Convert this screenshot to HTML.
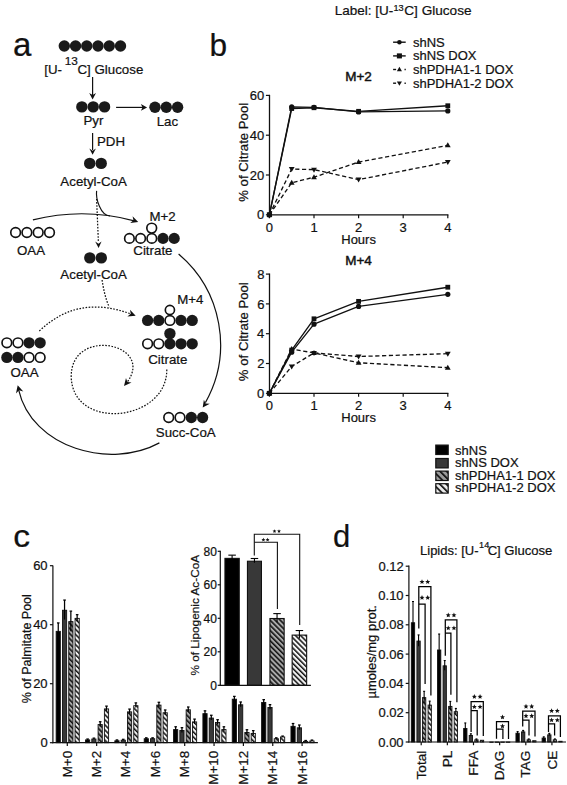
<!DOCTYPE html>
<html><head><meta charset="utf-8"><style>
html,body{margin:0;padding:0;background:#fff;}
body{width:567px;height:785px;overflow:hidden;}
svg{display:block;font-family:"Liberation Sans",sans-serif;}
text{stroke:#111;stroke-width:0.22px;paint-order:stroke;}
</style></head><body>
<svg width="567" height="785" viewBox="0 0 567 785">
<rect width="567" height="785" fill="#fff"/>
<defs>
<pattern id="hg" patternUnits="userSpaceOnUse" width="3.6" height="3.6" patternTransform="rotate(-45)">
<rect width="3.6" height="3.6" fill="#a8a8a8"/><rect width="1.55" height="3.6" fill="#111"/></pattern>
<pattern id="hw" patternUnits="userSpaceOnUse" width="3.6" height="3.6" patternTransform="rotate(-45)">
<rect width="3.6" height="3.6" fill="#f4f4f4"/><rect width="1.5" height="3.6" fill="#111"/></pattern>
<pattern id="lg" patternUnits="userSpaceOnUse" width="4.6" height="4.6" patternTransform="rotate(-45)">
<rect width="4.6" height="4.6" fill="#9c9c9c"/><rect width="1.7" height="4.6" fill="#111"/></pattern>
<pattern id="lw" patternUnits="userSpaceOnUse" width="4.6" height="4.6" patternTransform="rotate(-45)">
<rect width="4.6" height="4.6" fill="#ececec"/><rect width="1.7" height="4.6" fill="#111"/></pattern>
</defs>
<text x="12.9" y="56.3" font-size="33" fill="#111">a</text>
<circle cx="64.3" cy="46" r="5.7" fill="#1a1a1a"/>
<circle cx="75.54" cy="46" r="5.7" fill="#1a1a1a"/>
<circle cx="86.78" cy="46" r="5.7" fill="#1a1a1a"/>
<circle cx="98.02" cy="46" r="5.7" fill="#1a1a1a"/>
<circle cx="109.26" cy="46" r="5.7" fill="#1a1a1a"/>
<circle cx="120.5" cy="46" r="5.7" fill="#1a1a1a"/>
<text x="44.25" y="73.6" font-size="13.3" fill="#111">[U-</text>
<text x="64.7" y="64.8" font-size="11.8" fill="#111">13</text>
<text x="77.42" y="73.6" font-size="13.3" fill="#111">C]</text>
<text x="94.53" y="73.6" font-size="13.3" fill="#111">Glucose</text>
<line x1="92.6" y1="77" x2="92.6" y2="95" stroke="#111" stroke-width="1.2"/>
<path d="M92.6 99.4L89.2 92.9L92.6 95.1L96 92.9Z" fill="#111"/>
<circle cx="81.85" cy="106.9" r="5.7" fill="#1a1a1a"/>
<circle cx="93.2" cy="106.9" r="5.7" fill="#1a1a1a"/>
<circle cx="104.55" cy="106.9" r="5.7" fill="#1a1a1a"/>
<text x="83.51" y="125.4" font-size="13.3" fill="#111">Pyr</text>
<line x1="116.1" y1="107.4" x2="143" y2="107.4" stroke="#111" stroke-width="1.2"/>
<path d="M147.1 107.4L140.9 110.8L142.5 107.4L140.9 104Z" fill="#111"/>
<circle cx="155" cy="107.3" r="5.7" fill="#1a1a1a"/>
<circle cx="166.3" cy="107.3" r="5.7" fill="#1a1a1a"/>
<circle cx="177.6" cy="107.3" r="5.7" fill="#1a1a1a"/>
<text x="156.71" y="126" font-size="13.3" fill="#111">Lac</text>
<line x1="92.6" y1="133" x2="92.6" y2="150" stroke="#111" stroke-width="1.2"/>
<path d="M92.6 154.8L89.3 148.5L92.6 150.7L95.9 148.5Z" fill="#111"/>
<text x="96.91" y="146.4" font-size="13.3" fill="#111">PDH</text>
<circle cx="89.7" cy="163.4" r="5.7" fill="#1a1a1a"/>
<circle cx="101.2" cy="163.4" r="5.7" fill="#1a1a1a"/>
<text x="60.37" y="186.4" font-size="13.3" fill="#111">Acetyl-CoA</text>
<path d="M96.6 190.9C95.7 198.3 100.2 215.5 110 216" fill="none" stroke="#111" stroke-width="1.15"/>
<path d="M32.9 219.8C65.8 211.62 101.01 211.87 134.27 220.8" fill="none" stroke="#111" stroke-width="1.2"/>
<path d="M138.2 221.9L130.22 222.96L133.47 220.27L132.56 216.15Z" fill="#111"/>
<path d="M96.6 199L98.4 242" fill="none" stroke="#111" stroke-width="1.25" stroke-dasharray="1.6 1.5"/>
<path d="M98.6 248L95.18 241.62L98.45 243.7L101.57 241.39Z" fill="#111"/>
<circle cx="15.6" cy="232.5" r="4.83" fill="#fff" stroke="#111" stroke-width="1.65"/>
<circle cx="26.9" cy="232.5" r="4.83" fill="#fff" stroke="#111" stroke-width="1.65"/>
<circle cx="38.2" cy="232.5" r="4.83" fill="#fff" stroke="#111" stroke-width="1.65"/>
<circle cx="49.5" cy="232.5" r="4.83" fill="#fff" stroke="#111" stroke-width="1.65"/>
<text x="16.97" y="254.6" font-size="13.3" fill="#111">OAA</text>
<circle cx="129.4" cy="238.4" r="4.77" fill="#fff" stroke="#111" stroke-width="1.65"/>
<circle cx="140.6" cy="238.4" r="4.77" fill="#fff" stroke="#111" stroke-width="1.65"/>
<circle cx="151.8" cy="238.4" r="4.77" fill="#fff" stroke="#111" stroke-width="1.65"/>
<circle cx="163" cy="238.4" r="5.6" fill="#1a1a1a"/>
<circle cx="174.2" cy="238.4" r="5.6" fill="#1a1a1a"/>
<circle cx="151.7" cy="228.1" r="4.88" fill="#fff" stroke="#111" stroke-width="1.65"/>
<text x="149.51" y="221.2" font-size="13.3" fill="#111">M+2</text>
<text x="133.32" y="255.3" font-size="13.3" fill="#111">Citrate</text>
<circle cx="89.8" cy="257.9" r="5.7" fill="#1a1a1a"/>
<circle cx="101.3" cy="257.9" r="5.7" fill="#1a1a1a"/>
<text x="60.37" y="278.6" font-size="13.3" fill="#111">Acetyl-CoA</text>
<path d="M102.1 280C103.5 290 106 300 109.3 307.2" fill="none" stroke="#111" stroke-width="1.25" stroke-dasharray="1.6 1.5"/>
<path d="M39.3 331C67.55 304.48 97.01 301.69 131.48 314.11" fill="none" stroke="#111" stroke-width="1.25" stroke-dasharray="1.6 1.5"/>
<path d="M135.7 315.7L127.41 316.4L130.74 313.82L129.97 309.67Z" fill="#111"/>
<circle cx="6.85" cy="342.8" r="4.83" fill="#fff" stroke="#111" stroke-width="1.65"/>
<circle cx="6.85" cy="357.4" r="5.65" fill="#1a1a1a"/>
<circle cx="17.95" cy="342.8" r="4.83" fill="#fff" stroke="#111" stroke-width="1.65"/>
<circle cx="17.95" cy="357.4" r="5.65" fill="#1a1a1a"/>
<circle cx="29.05" cy="342.8" r="5.65" fill="#1a1a1a"/>
<circle cx="29.05" cy="357.4" r="4.83" fill="#fff" stroke="#111" stroke-width="1.65"/>
<circle cx="40.15" cy="342.8" r="5.65" fill="#1a1a1a"/>
<circle cx="40.15" cy="357.4" r="4.83" fill="#fff" stroke="#111" stroke-width="1.65"/>
<text x="10.47" y="377.2" font-size="13.3" fill="#111">OAA</text>
<circle cx="147.6" cy="320.4" r="5.65" fill="#1a1a1a"/>
<circle cx="158.75" cy="320.4" r="5.65" fill="#1a1a1a"/>
<circle cx="169.9" cy="320.4" r="4.83" fill="#fff" stroke="#111" stroke-width="1.65"/>
<circle cx="181.05" cy="320.4" r="5.65" fill="#1a1a1a"/>
<circle cx="192.2" cy="320.4" r="5.65" fill="#1a1a1a"/>
<circle cx="169.9" cy="310" r="4.58" fill="#fff" stroke="#111" stroke-width="1.65"/>
<circle cx="147.6" cy="343.8" r="4.83" fill="#fff" stroke="#111" stroke-width="1.65"/>
<circle cx="158.75" cy="343.8" r="4.83" fill="#fff" stroke="#111" stroke-width="1.65"/>
<circle cx="169.9" cy="343.8" r="5.65" fill="#1a1a1a"/>
<circle cx="181.05" cy="343.8" r="5.65" fill="#1a1a1a"/>
<circle cx="192.2" cy="343.8" r="5.65" fill="#1a1a1a"/>
<circle cx="169.9" cy="333.6" r="5.7" fill="#1a1a1a"/>
<text x="177.21" y="304" font-size="13.3" fill="#111">M+4</text>
<text x="148.22" y="363.6" font-size="13.3" fill="#111">Citrate</text>
<path d="M178.6 254A118.7 118.7 0 0 1 205.4 402.6" fill="none" stroke="#111" stroke-width="1.2"/>
<path d="M202.7 407.6L203.88 399.64L205.57 403.5L209.78 403.77Z" fill="#111"/>
<path d="M166.8 369.5C167.1 421.9 72.7 431.6 71.2 376.9" fill="none" stroke="#111" stroke-width="1.25" stroke-dasharray="1.6 1.5"/>
<path d="M71.2 376.9C70.81 325.73 156.03 343.67 126.92 382.47" fill="none" stroke="#111" stroke-width="1.25" stroke-dasharray="1.6 1.5"/>
<path d="M124 386L125.99 377.92L127.37 381.91L131.55 382.5Z" fill="#111"/>
<circle cx="168.7" cy="417.5" r="4.83" fill="#fff" stroke="#111" stroke-width="1.65"/>
<circle cx="180" cy="417.5" r="4.83" fill="#fff" stroke="#111" stroke-width="1.65"/>
<circle cx="191.3" cy="417.5" r="5.65" fill="#1a1a1a"/>
<circle cx="202.6" cy="417.5" r="5.65" fill="#1a1a1a"/>
<text x="155.8" y="437" font-size="13.3" fill="#111">Succ-CoA</text>
<path d="M159.4 442.9C110.6 469.5 31.86 448.57 18.5 389.26" fill="none" stroke="#111" stroke-width="1.2"/>
<path d="M17.7 385.2L23.31 391.46L19.07 390.32L15.97 393.43Z" fill="#111"/>
<text x="209.56" y="56.1" font-size="31.6" fill="#111">b</text>
<text x="334.69" y="15.1" font-size="13.5" fill="#111">Label: [U-</text>
<text x="393.5" y="11.1" font-size="9.2" fill="#111">13</text>
<text x="404.31" y="15.2" font-size="13.6" fill="#111">C] Glucose</text>
<line x1="393.1" y1="42.2" x2="405.7" y2="42.2" stroke="#111" stroke-width="1.4"/>
<circle cx="399.4" cy="42.2" r="2.29" fill="#111"/>
<text x="412.94" y="46.7" font-size="13" fill="#111">shNS</text>
<line x1="393.1" y1="55.9" x2="405.7" y2="55.9" stroke="#111" stroke-width="1.4"/>
<rect x="396.88" y="53.38" width="5.04" height="5.04" fill="#111"/>
<text x="412.94" y="60.4" font-size="13" fill="#111">shNS DOX</text>
<line x1="393.1" y1="69.5" x2="396.1" y2="69.5" stroke="#111" stroke-width="1.4"/>
<line x1="404.5" y1="69.5" x2="405.8" y2="69.5" stroke="#111" stroke-width="1.4"/>
<path d="M399.4 66.86L401.95 71.26L396.85 71.26Z" fill="#111"/>
<text x="412.94" y="74" font-size="13" fill="#111">shPDHA1-1 DOX</text>
<line x1="393.1" y1="83.2" x2="396.1" y2="83.2" stroke="#111" stroke-width="1.4"/>
<line x1="404.5" y1="83.2" x2="405.8" y2="83.2" stroke="#111" stroke-width="1.4"/>
<path d="M399.4 85.84L401.95 81.44L396.85 81.44Z" fill="#111"/>
<text x="412.94" y="87.7" font-size="13" fill="#111">shPDHA1-2 DOX</text>
<line x1="269.5" y1="94.8" x2="269.5" y2="215.4" stroke="#111" stroke-width="1.3"/>
<line x1="268.9" y1="214.8" x2="448.4" y2="214.8" stroke="#111" stroke-width="1.3"/>
<line x1="265.9" y1="214.8" x2="269.5" y2="214.8" stroke="#111" stroke-width="1.2"/>
<text x="264.31" y="219.4" font-size="13" text-anchor="end" fill="#111">0</text>
<line x1="265.9" y1="175" x2="269.5" y2="175" stroke="#111" stroke-width="1.2"/>
<text x="264.31" y="179.6" font-size="13" text-anchor="end" fill="#111">20</text>
<line x1="265.9" y1="135.2" x2="269.5" y2="135.2" stroke="#111" stroke-width="1.2"/>
<text x="264.31" y="139.8" font-size="13" text-anchor="end" fill="#111">40</text>
<line x1="265.9" y1="95.4" x2="269.5" y2="95.4" stroke="#111" stroke-width="1.2"/>
<text x="264.31" y="100" font-size="13" text-anchor="end" fill="#111">60</text>
<line x1="269.4" y1="214.8" x2="269.4" y2="218.2" stroke="#111" stroke-width="1.2"/>
<text x="269.4" y="231.9" font-size="13" text-anchor="middle" fill="#111">0</text>
<line x1="314" y1="214.8" x2="314" y2="218.2" stroke="#111" stroke-width="1.2"/>
<text x="314" y="231.9" font-size="13" text-anchor="middle" fill="#111">1</text>
<line x1="358.6" y1="214.8" x2="358.6" y2="218.2" stroke="#111" stroke-width="1.2"/>
<text x="358.6" y="231.9" font-size="13" text-anchor="middle" fill="#111">2</text>
<line x1="403.2" y1="214.8" x2="403.2" y2="218.2" stroke="#111" stroke-width="1.2"/>
<text x="403.2" y="231.9" font-size="13" text-anchor="middle" fill="#111">3</text>
<line x1="447.8" y1="214.8" x2="447.8" y2="218.2" stroke="#111" stroke-width="1.2"/>
<text x="447.8" y="231.9" font-size="13" text-anchor="middle" fill="#111">4</text>
<text x="358.6" y="244" font-size="13" text-anchor="middle" fill="#111">Hours</text>
<text x="358.5" y="80.5" font-size="13.5" text-anchor="middle" style="stroke-width:0.45px" fill="#111">M+2</text>
<text transform="translate(247.5 152.3) rotate(-90)" font-size="13.2" text-anchor="middle" fill="#111">% of Citrate Pool</text>
<path d="M269.4 214.8 L291.7 106.94 L314 107.34 L358.6 111.92 L447.8 110.92" fill="none" stroke="#111" stroke-width="1.35" stroke-linejoin="round"/>
<path d="M269.4 214.8 L291.7 108.53 L314 107.74 L358.6 111.32 L447.8 105.75" fill="none" stroke="#111" stroke-width="1.35" stroke-linejoin="round"/>
<path d="M269.4 214.8 L291.7 182.76 L314 177.19 L358.6 162.06 L447.8 145.35" fill="none" stroke="#111" stroke-width="1.35" stroke-dasharray="4.2 2.6" stroke-linejoin="round"/>
<path d="M269.4 214.8 L291.7 169.03 L314 169.63 L358.6 179.58 L447.8 162.06" fill="none" stroke="#111" stroke-width="1.35" stroke-dasharray="4.2 2.6" stroke-linejoin="round"/>
<circle cx="269.4" cy="214.8" r="2.6" fill="#111"/>
<circle cx="291.7" cy="106.94" r="2.6" fill="#111"/>
<circle cx="314" cy="107.34" r="2.6" fill="#111"/>
<circle cx="358.6" cy="111.92" r="2.6" fill="#111"/>
<circle cx="447.8" cy="110.92" r="2.6" fill="#111"/>
<rect x="267" y="212.4" width="4.8" height="4.8" fill="#111"/>
<rect x="289.3" y="106.13" width="4.8" height="4.8" fill="#111"/>
<rect x="311.6" y="105.34" width="4.8" height="4.8" fill="#111"/>
<rect x="356.2" y="108.92" width="4.8" height="4.8" fill="#111"/>
<rect x="445.4" y="103.35" width="4.8" height="4.8" fill="#111"/>
<path d="M269.4 211.8L272.3 216.8L266.5 216.8Z" fill="#111"/>
<path d="M291.7 179.76L294.6 184.76L288.8 184.76Z" fill="#111"/>
<path d="M314 174.19L316.9 179.19L311.1 179.19Z" fill="#111"/>
<path d="M358.6 159.06L361.5 164.06L355.7 164.06Z" fill="#111"/>
<path d="M447.8 142.35L450.7 147.35L444.9 147.35Z" fill="#111"/>
<path d="M269.4 217.8L272.3 212.8L266.5 212.8Z" fill="#111"/>
<path d="M291.7 172.03L294.6 167.03L288.8 167.03Z" fill="#111"/>
<path d="M314 172.63L316.9 167.63L311.1 167.63Z" fill="#111"/>
<path d="M358.6 182.58L361.5 177.58L355.7 177.58Z" fill="#111"/>
<path d="M447.8 165.06L450.7 160.06L444.9 160.06Z" fill="#111"/>
<line x1="269.5" y1="273.5" x2="269.5" y2="393.9" stroke="#111" stroke-width="1.3"/>
<line x1="268.9" y1="393.3" x2="448.4" y2="393.3" stroke="#111" stroke-width="1.3"/>
<line x1="265.9" y1="393.3" x2="269.5" y2="393.3" stroke="#111" stroke-width="1.2"/>
<text x="264.31" y="397.9" font-size="13" text-anchor="end" fill="#111">0</text>
<line x1="265.9" y1="363.5" x2="269.5" y2="363.5" stroke="#111" stroke-width="1.2"/>
<text x="264.45" y="368.1" font-size="13" text-anchor="end" fill="#111">2</text>
<line x1="265.9" y1="333.7" x2="269.5" y2="333.7" stroke="#111" stroke-width="1.2"/>
<text x="264.18" y="338.3" font-size="13" text-anchor="end" fill="#111">4</text>
<line x1="265.9" y1="303.9" x2="269.5" y2="303.9" stroke="#111" stroke-width="1.2"/>
<text x="264.37" y="308.5" font-size="13" text-anchor="end" fill="#111">6</text>
<line x1="265.9" y1="274.1" x2="269.5" y2="274.1" stroke="#111" stroke-width="1.2"/>
<text x="264.36" y="278.7" font-size="13" text-anchor="end" fill="#111">8</text>
<line x1="269.4" y1="393.3" x2="269.4" y2="396.7" stroke="#111" stroke-width="1.2"/>
<text x="269.4" y="410.4" font-size="13" text-anchor="middle" fill="#111">0</text>
<line x1="314" y1="393.3" x2="314" y2="396.7" stroke="#111" stroke-width="1.2"/>
<text x="314" y="410.4" font-size="13" text-anchor="middle" fill="#111">1</text>
<line x1="358.6" y1="393.3" x2="358.6" y2="396.7" stroke="#111" stroke-width="1.2"/>
<text x="358.6" y="410.4" font-size="13" text-anchor="middle" fill="#111">2</text>
<line x1="403.2" y1="393.3" x2="403.2" y2="396.7" stroke="#111" stroke-width="1.2"/>
<text x="403.2" y="410.4" font-size="13" text-anchor="middle" fill="#111">3</text>
<line x1="447.8" y1="393.3" x2="447.8" y2="396.7" stroke="#111" stroke-width="1.2"/>
<text x="447.8" y="410.4" font-size="13" text-anchor="middle" fill="#111">4</text>
<text x="358.6" y="422.4" font-size="13" text-anchor="middle" fill="#111">Hours</text>
<text x="358.5" y="265" font-size="13.5" text-anchor="middle" style="stroke-width:0.45px" fill="#111">M+4</text>
<text transform="translate(247.5 331.7) rotate(-90)" font-size="13.2" text-anchor="middle" fill="#111">% of Citrate Pool</text>
<path d="M269.4 393.3 L291.7 352.18 L314 324.16 L358.6 306.43 L447.8 294.36" fill="none" stroke="#111" stroke-width="1.35" stroke-linejoin="round"/>
<path d="M269.4 393.3 L291.7 350.09 L314 318.8 L358.6 301.37 L447.8 287.21" fill="none" stroke="#111" stroke-width="1.35" stroke-linejoin="round"/>
<path d="M269.4 393.3 L291.7 349.05 L314 352.92 L358.6 362.75 L447.8 367.67" fill="none" stroke="#111" stroke-width="1.35" stroke-dasharray="4.2 2.6" stroke-linejoin="round"/>
<path d="M269.4 393.3 L291.7 366.48 L314 352.92 L358.6 356.5 L447.8 353.67" fill="none" stroke="#111" stroke-width="1.35" stroke-dasharray="4.2 2.6" stroke-linejoin="round"/>
<circle cx="269.4" cy="393.3" r="2.6" fill="#111"/>
<circle cx="291.7" cy="352.18" r="2.6" fill="#111"/>
<circle cx="314" cy="324.16" r="2.6" fill="#111"/>
<circle cx="358.6" cy="306.43" r="2.6" fill="#111"/>
<circle cx="447.8" cy="294.36" r="2.6" fill="#111"/>
<rect x="267" y="390.9" width="4.8" height="4.8" fill="#111"/>
<rect x="289.3" y="347.69" width="4.8" height="4.8" fill="#111"/>
<rect x="311.6" y="316.4" width="4.8" height="4.8" fill="#111"/>
<rect x="356.2" y="298.97" width="4.8" height="4.8" fill="#111"/>
<rect x="445.4" y="284.81" width="4.8" height="4.8" fill="#111"/>
<path d="M269.4 390.3L272.3 395.3L266.5 395.3Z" fill="#111"/>
<path d="M291.7 346.05L294.6 351.05L288.8 351.05Z" fill="#111"/>
<path d="M314 349.92L316.9 354.92L311.1 354.92Z" fill="#111"/>
<path d="M358.6 359.75L361.5 364.75L355.7 364.75Z" fill="#111"/>
<path d="M447.8 364.67L450.7 369.67L444.9 369.67Z" fill="#111"/>
<path d="M269.4 396.3L272.3 391.3L266.5 391.3Z" fill="#111"/>
<path d="M291.7 369.48L294.6 364.48L288.8 364.48Z" fill="#111"/>
<path d="M314 355.92L316.9 350.92L311.1 350.92Z" fill="#111"/>
<path d="M358.6 359.5L361.5 354.5L355.7 354.5Z" fill="#111"/>
<path d="M447.8 356.67L450.7 351.67L444.9 351.67Z" fill="#111"/>
<rect x="435.8" y="445.1" width="12.4" height="9.4" fill="#000" stroke="#111" stroke-width="1.2"/>
<text x="455.04" y="454.5" font-size="13" fill="#111">shNS</text>
<rect x="435.8" y="458.5" width="12.4" height="9.4" fill="#383838" stroke="#111" stroke-width="1.2"/>
<text x="455.04" y="467.2" font-size="13" fill="#111">shNS DOX</text>
<rect x="435.8" y="471.1" width="12.4" height="9.4" fill="url(#lg)" stroke="#111" stroke-width="1.2"/>
<text x="455.04" y="479.8" font-size="13" fill="#111">shPDHA1-1 DOX</text>
<rect x="435.8" y="483.7" width="12.4" height="9.4" fill="url(#lw)" stroke="#111" stroke-width="1.2"/>
<text x="455.04" y="492.4" font-size="13" fill="#111">shPDHA1-2 DOX</text>
<text transform="translate(13.2 547.4) scale(1.1 1)" font-size="30.5" fill="#111">c</text>
<line x1="52.9" y1="565.4" x2="52.9" y2="743.3" stroke="#111" stroke-width="1.2"/>
<line x1="49.9" y1="742.7" x2="52.9" y2="742.7" stroke="#111" stroke-width="1.2"/>
<text x="47.61" y="747.3" font-size="13" text-anchor="end" fill="#111">0</text>
<line x1="49.9" y1="683.7" x2="52.9" y2="683.7" stroke="#111" stroke-width="1.2"/>
<text x="47.61" y="688.3" font-size="13" text-anchor="end" fill="#111">20</text>
<line x1="49.9" y1="624.7" x2="52.9" y2="624.7" stroke="#111" stroke-width="1.2"/>
<text x="47.61" y="629.3" font-size="13" text-anchor="end" fill="#111">40</text>
<line x1="49.9" y1="565.7" x2="52.9" y2="565.7" stroke="#111" stroke-width="1.2"/>
<text x="47.61" y="570.3" font-size="13" text-anchor="end" fill="#111">60</text>
<text transform="translate(31 648.7) rotate(-90)" font-size="12.5" text-anchor="middle" fill="#111">% of Palmitate Pool</text>
<rect x="56.15" y="631.35" width="4.2" height="111.36" fill="#000" stroke="#111" stroke-width="0.9"/>
<rect x="62.45" y="610.25" width="4.2" height="132.45" fill="#383838" stroke="#111" stroke-width="0.9"/>
<rect x="68.75" y="621.61" width="4.2" height="121.09" fill="url(#hg)" stroke="#111" stroke-width="0.9"/>
<rect x="75.05" y="618.37" width="4.2" height="124.33" fill="url(#hw)" stroke="#111" stroke-width="0.9"/>
<line x1="58.25" y1="638.86" x2="58.25" y2="622.93" stroke="#000" stroke-width="1.25"/>
<line x1="56.95" y1="622.93" x2="59.55" y2="622.93" stroke="#000" stroke-width="1.25"/>
<line x1="64.55" y1="619.54" x2="64.55" y2="600.07" stroke="#000" stroke-width="1.25"/>
<line x1="63.25" y1="600.07" x2="65.85" y2="600.07" stroke="#000" stroke-width="1.25"/>
<line x1="70.85" y1="631.19" x2="70.85" y2="611.13" stroke="#000" stroke-width="1.25"/>
<line x1="69.55" y1="611.13" x2="72.15" y2="611.13" stroke="#000" stroke-width="1.25"/>
<line x1="77.15" y1="621.16" x2="77.15" y2="614.67" stroke="#000" stroke-width="1.25"/>
<line x1="75.85" y1="614.67" x2="78.45" y2="614.67" stroke="#000" stroke-width="1.25"/>
<line x1="67.3" y1="742.7" x2="67.3" y2="745.9" stroke="#111" stroke-width="1.2"/>
<text transform="translate(71.7 750.9) rotate(-90)" font-size="13.4" text-anchor="end" fill="#111">M+0</text>
<rect x="85.5" y="739.91" width="4.2" height="2.8" fill="#000" stroke="#111" stroke-width="0.9"/>
<rect x="91.8" y="739.02" width="4.2" height="3.68" fill="#383838" stroke="#111" stroke-width="0.9"/>
<rect x="98.1" y="724.57" width="4.2" height="18.14" fill="url(#hg)" stroke="#111" stroke-width="0.9"/>
<rect x="104.4" y="708.93" width="4.2" height="33.77" fill="url(#hw)" stroke="#111" stroke-width="0.9"/>
<line x1="87.6" y1="739.9" x2="87.6" y2="739.01" stroke="#000" stroke-width="1.25"/>
<line x1="86.3" y1="739.01" x2="88.9" y2="739.01" stroke="#000" stroke-width="1.25"/>
<line x1="93.9" y1="739.01" x2="93.9" y2="738.13" stroke="#000" stroke-width="1.25"/>
<line x1="92.6" y1="738.13" x2="95.2" y2="738.13" stroke="#000" stroke-width="1.25"/>
<line x1="100.2" y1="726.48" x2="100.2" y2="721.75" stroke="#000" stroke-width="1.25"/>
<line x1="98.9" y1="721.75" x2="101.5" y2="721.75" stroke="#000" stroke-width="1.25"/>
<line x1="106.5" y1="710.84" x2="106.5" y2="706.12" stroke="#000" stroke-width="1.25"/>
<line x1="105.2" y1="706.12" x2="107.8" y2="706.12" stroke="#000" stroke-width="1.25"/>
<line x1="96.65" y1="742.7" x2="96.65" y2="745.9" stroke="#111" stroke-width="1.2"/>
<text transform="translate(101.05 750.9) rotate(-90)" font-size="13.4" text-anchor="end" fill="#111">M+2</text>
<rect x="114.85" y="740.79" width="4.2" height="1.91" fill="#000" stroke="#111" stroke-width="0.9"/>
<rect x="121.15" y="740.2" width="4.2" height="2.5" fill="#383838" stroke="#111" stroke-width="0.9"/>
<rect x="127.45" y="711.88" width="4.2" height="30.82" fill="url(#hg)" stroke="#111" stroke-width="0.9"/>
<rect x="133.75" y="705.69" width="4.2" height="37.02" fill="url(#hw)" stroke="#111" stroke-width="0.9"/>
<line x1="116.95" y1="740.78" x2="116.95" y2="739.9" stroke="#000" stroke-width="1.25"/>
<line x1="115.65" y1="739.9" x2="118.25" y2="739.9" stroke="#000" stroke-width="1.25"/>
<line x1="123.25" y1="740.19" x2="123.25" y2="739.31" stroke="#000" stroke-width="1.25"/>
<line x1="121.95" y1="739.31" x2="124.55" y2="739.31" stroke="#000" stroke-width="1.25"/>
<line x1="129.55" y1="713.79" x2="129.55" y2="709.07" stroke="#000" stroke-width="1.25"/>
<line x1="128.25" y1="709.07" x2="130.85" y2="709.07" stroke="#000" stroke-width="1.25"/>
<line x1="135.85" y1="707.6" x2="135.85" y2="702.88" stroke="#000" stroke-width="1.25"/>
<line x1="134.55" y1="702.88" x2="137.15" y2="702.88" stroke="#000" stroke-width="1.25"/>
<line x1="126" y1="742.7" x2="126" y2="745.9" stroke="#111" stroke-width="1.2"/>
<text transform="translate(130.4 750.9) rotate(-90)" font-size="13.4" text-anchor="end" fill="#111">M+4</text>
<rect x="144.2" y="738.73" width="4.2" height="3.97" fill="#000" stroke="#111" stroke-width="0.9"/>
<rect x="150.5" y="738.73" width="4.2" height="3.97" fill="#383838" stroke="#111" stroke-width="0.9"/>
<rect x="156.8" y="705.1" width="4.2" height="37.61" fill="url(#hg)" stroke="#111" stroke-width="0.9"/>
<rect x="163.1" y="712.77" width="4.2" height="29.93" fill="url(#hw)" stroke="#111" stroke-width="0.9"/>
<line x1="146.3" y1="738.72" x2="146.3" y2="737.83" stroke="#000" stroke-width="1.25"/>
<line x1="145" y1="737.83" x2="147.6" y2="737.83" stroke="#000" stroke-width="1.25"/>
<line x1="152.6" y1="738.72" x2="152.6" y2="737.83" stroke="#000" stroke-width="1.25"/>
<line x1="151.3" y1="737.83" x2="153.9" y2="737.83" stroke="#000" stroke-width="1.25"/>
<line x1="158.9" y1="707" x2="158.9" y2="702.28" stroke="#000" stroke-width="1.25"/>
<line x1="157.6" y1="702.28" x2="160.2" y2="702.28" stroke="#000" stroke-width="1.25"/>
<line x1="165.2" y1="714.68" x2="165.2" y2="709.96" stroke="#000" stroke-width="1.25"/>
<line x1="163.9" y1="709.96" x2="166.5" y2="709.96" stroke="#000" stroke-width="1.25"/>
<line x1="155.35" y1="742.7" x2="155.35" y2="745.9" stroke="#111" stroke-width="1.2"/>
<text transform="translate(159.75 750.9) rotate(-90)" font-size="13.4" text-anchor="end" fill="#111">M+6</text>
<rect x="173.55" y="729.58" width="4.2" height="13.12" fill="#000" stroke="#111" stroke-width="0.9"/>
<rect x="179.85" y="730.47" width="4.2" height="12.23" fill="#383838" stroke="#111" stroke-width="0.9"/>
<rect x="186.15" y="709.82" width="4.2" height="32.89" fill="url(#hg)" stroke="#111" stroke-width="0.9"/>
<rect x="192.45" y="721.91" width="4.2" height="20.79" fill="url(#hw)" stroke="#111" stroke-width="0.9"/>
<line x1="175.65" y1="731.49" x2="175.65" y2="726.77" stroke="#000" stroke-width="1.25"/>
<line x1="174.35" y1="726.77" x2="176.95" y2="726.77" stroke="#000" stroke-width="1.25"/>
<line x1="181.95" y1="732.38" x2="181.95" y2="727.66" stroke="#000" stroke-width="1.25"/>
<line x1="180.65" y1="727.66" x2="183.25" y2="727.66" stroke="#000" stroke-width="1.25"/>
<line x1="188.25" y1="711.73" x2="188.25" y2="707" stroke="#000" stroke-width="1.25"/>
<line x1="186.95" y1="707" x2="189.55" y2="707" stroke="#000" stroke-width="1.25"/>
<line x1="194.55" y1="723.82" x2="194.55" y2="719.1" stroke="#000" stroke-width="1.25"/>
<line x1="193.25" y1="719.1" x2="195.85" y2="719.1" stroke="#000" stroke-width="1.25"/>
<line x1="184.7" y1="742.7" x2="184.7" y2="745.9" stroke="#111" stroke-width="1.2"/>
<text transform="translate(189.1 750.9) rotate(-90)" font-size="13.4" text-anchor="end" fill="#111">M+8</text>
<rect x="202.9" y="713.65" width="4.2" height="29.05" fill="#000" stroke="#111" stroke-width="0.9"/>
<rect x="209.2" y="718.08" width="4.2" height="24.63" fill="#383838" stroke="#111" stroke-width="0.9"/>
<rect x="215.5" y="722.5" width="4.2" height="20.2" fill="url(#hg)" stroke="#111" stroke-width="0.9"/>
<rect x="221.8" y="729.58" width="4.2" height="13.12" fill="url(#hw)" stroke="#111" stroke-width="0.9"/>
<line x1="205" y1="715.56" x2="205" y2="710.84" stroke="#000" stroke-width="1.25"/>
<line x1="203.7" y1="710.84" x2="206.3" y2="710.84" stroke="#000" stroke-width="1.25"/>
<line x1="211.3" y1="719.99" x2="211.3" y2="715.26" stroke="#000" stroke-width="1.25"/>
<line x1="210" y1="715.26" x2="212.6" y2="715.26" stroke="#000" stroke-width="1.25"/>
<line x1="217.6" y1="724.41" x2="217.6" y2="719.69" stroke="#000" stroke-width="1.25"/>
<line x1="216.3" y1="719.69" x2="218.9" y2="719.69" stroke="#000" stroke-width="1.25"/>
<line x1="223.9" y1="731.49" x2="223.9" y2="726.77" stroke="#000" stroke-width="1.25"/>
<line x1="222.6" y1="726.77" x2="225.2" y2="726.77" stroke="#000" stroke-width="1.25"/>
<line x1="214.05" y1="742.7" x2="214.05" y2="745.9" stroke="#111" stroke-width="1.2"/>
<text transform="translate(218.45 750.9) rotate(-90)" font-size="13.4" text-anchor="end" fill="#111">M+10</text>
<rect x="232.25" y="699.2" width="4.2" height="43.51" fill="#000" stroke="#111" stroke-width="0.9"/>
<rect x="238.55" y="704.8" width="4.2" height="37.9" fill="#383838" stroke="#111" stroke-width="0.9"/>
<rect x="244.85" y="732.53" width="4.2" height="10.17" fill="url(#hg)" stroke="#111" stroke-width="0.9"/>
<rect x="251.15" y="733.42" width="4.2" height="9.29" fill="url(#hw)" stroke="#111" stroke-width="0.9"/>
<line x1="234.35" y1="701.11" x2="234.35" y2="696.38" stroke="#000" stroke-width="1.25"/>
<line x1="233.05" y1="696.38" x2="235.65" y2="696.38" stroke="#000" stroke-width="1.25"/>
<line x1="240.65" y1="706.71" x2="240.65" y2="701.99" stroke="#000" stroke-width="1.25"/>
<line x1="239.35" y1="701.99" x2="241.95" y2="701.99" stroke="#000" stroke-width="1.25"/>
<line x1="246.95" y1="734.44" x2="246.95" y2="729.72" stroke="#000" stroke-width="1.25"/>
<line x1="245.65" y1="729.72" x2="248.25" y2="729.72" stroke="#000" stroke-width="1.25"/>
<line x1="253.25" y1="735.33" x2="253.25" y2="730.61" stroke="#000" stroke-width="1.25"/>
<line x1="251.95" y1="730.61" x2="254.55" y2="730.61" stroke="#000" stroke-width="1.25"/>
<line x1="243.4" y1="742.7" x2="243.4" y2="745.9" stroke="#111" stroke-width="1.2"/>
<text transform="translate(247.8 750.9) rotate(-90)" font-size="13.4" text-anchor="end" fill="#111">M+12</text>
<rect x="261.6" y="702.44" width="4.2" height="40.26" fill="#000" stroke="#111" stroke-width="0.9"/>
<rect x="267.9" y="707.46" width="4.2" height="35.25" fill="#383838" stroke="#111" stroke-width="0.9"/>
<rect x="274.2" y="738.73" width="4.2" height="3.97" fill="url(#hg)" stroke="#111" stroke-width="0.9"/>
<rect x="280.5" y="736.96" width="4.2" height="5.75" fill="url(#hw)" stroke="#111" stroke-width="0.9"/>
<line x1="263.7" y1="704.35" x2="263.7" y2="699.63" stroke="#000" stroke-width="1.25"/>
<line x1="262.4" y1="699.63" x2="265" y2="699.63" stroke="#000" stroke-width="1.25"/>
<line x1="270" y1="709.37" x2="270" y2="704.64" stroke="#000" stroke-width="1.25"/>
<line x1="268.7" y1="704.64" x2="271.3" y2="704.64" stroke="#000" stroke-width="1.25"/>
<line x1="276.3" y1="738.72" x2="276.3" y2="737.83" stroke="#000" stroke-width="1.25"/>
<line x1="275" y1="737.83" x2="277.6" y2="737.83" stroke="#000" stroke-width="1.25"/>
<line x1="282.6" y1="736.95" x2="282.6" y2="736.06" stroke="#000" stroke-width="1.25"/>
<line x1="281.3" y1="736.06" x2="283.9" y2="736.06" stroke="#000" stroke-width="1.25"/>
<line x1="272.75" y1="742.7" x2="272.75" y2="745.9" stroke="#111" stroke-width="1.2"/>
<text transform="translate(277.15 750.9) rotate(-90)" font-size="13.4" text-anchor="end" fill="#111">M+14</text>
<rect x="290.95" y="726.34" width="4.2" height="16.37" fill="#000" stroke="#111" stroke-width="0.9"/>
<rect x="297.25" y="727.81" width="4.2" height="14.89" fill="#383838" stroke="#111" stroke-width="0.9"/>
<rect x="303.55" y="741.38" width="4.2" height="1.32" fill="url(#hg)" stroke="#111" stroke-width="0.9"/>
<rect x="309.85" y="740.94" width="4.2" height="1.76" fill="url(#hw)" stroke="#111" stroke-width="0.9"/>
<line x1="293.05" y1="728.25" x2="293.05" y2="723.52" stroke="#000" stroke-width="1.25"/>
<line x1="291.75" y1="723.52" x2="294.35" y2="723.52" stroke="#000" stroke-width="1.25"/>
<line x1="299.35" y1="729.72" x2="299.35" y2="725" stroke="#000" stroke-width="1.25"/>
<line x1="298.05" y1="725" x2="300.65" y2="725" stroke="#000" stroke-width="1.25"/>
<line x1="305.65" y1="741.37" x2="305.65" y2="740.49" stroke="#000" stroke-width="1.25"/>
<line x1="304.35" y1="740.49" x2="306.95" y2="740.49" stroke="#000" stroke-width="1.25"/>
<line x1="311.95" y1="740.93" x2="311.95" y2="740.05" stroke="#000" stroke-width="1.25"/>
<line x1="310.65" y1="740.05" x2="313.25" y2="740.05" stroke="#000" stroke-width="1.25"/>
<line x1="302.1" y1="742.7" x2="302.1" y2="745.9" stroke="#111" stroke-width="1.2"/>
<text transform="translate(306.5 750.9) rotate(-90)" font-size="13.4" text-anchor="end" fill="#111">M+16</text>
<line x1="52.3" y1="742.7" x2="317.9" y2="742.7" stroke="#111" stroke-width="1.2"/>
<line x1="220.3" y1="550.7" x2="220.3" y2="685.9" stroke="#111" stroke-width="1.2"/>
<line x1="217.7" y1="685.3" x2="220.3" y2="685.3" stroke="#111" stroke-width="1.2"/>
<text x="216.97" y="689.6" font-size="12" text-anchor="end" fill="#111">0</text>
<line x1="217.7" y1="651.8" x2="220.3" y2="651.8" stroke="#111" stroke-width="1.2"/>
<text x="216.97" y="656.1" font-size="12" text-anchor="end" fill="#111">20</text>
<line x1="217.7" y1="618.3" x2="220.3" y2="618.3" stroke="#111" stroke-width="1.2"/>
<text x="216.97" y="622.6" font-size="12" text-anchor="end" fill="#111">40</text>
<line x1="217.7" y1="584.8" x2="220.3" y2="584.8" stroke="#111" stroke-width="1.2"/>
<text x="216.97" y="589.1" font-size="12" text-anchor="end" fill="#111">60</text>
<line x1="217.7" y1="551.3" x2="220.3" y2="551.3" stroke="#111" stroke-width="1.2"/>
<text x="216.97" y="555.6" font-size="12" text-anchor="end" fill="#111">80</text>
<text transform="translate(198.8 615.25) rotate(-90)" font-size="11.8" text-anchor="middle" fill="#111">% of Lipogenic Ac-CoA</text>
<rect x="224.95" y="558.38" width="14.3" height="126.92" fill="#000" stroke="#111" stroke-width="1.1"/>
<line x1="232.1" y1="560.51" x2="232.1" y2="555.15" stroke="#000" stroke-width="1.1"/>
<line x1="228.35" y1="555.15" x2="235.85" y2="555.15" stroke="#000" stroke-width="1.1"/>
<rect x="247.45" y="561.23" width="14" height="124.07" fill="#383838" stroke="#111" stroke-width="1.1"/>
<line x1="254.45" y1="562.86" x2="254.45" y2="558.5" stroke="#000" stroke-width="1.1"/>
<line x1="250.7" y1="558.5" x2="258.2" y2="558.5" stroke="#000" stroke-width="1.1"/>
<rect x="269.95" y="618.51" width="14.2" height="66.79" fill="url(#hg)" stroke="#111" stroke-width="1.1"/>
<line x1="277.05" y1="622.32" x2="277.05" y2="613.61" stroke="#000" stroke-width="1.1"/>
<line x1="273.3" y1="613.61" x2="280.8" y2="613.61" stroke="#000" stroke-width="1.1"/>
<rect x="292.15" y="635.1" width="14.5" height="50.2" fill="url(#hw)" stroke="#111" stroke-width="1.1"/>
<line x1="299.4" y1="638.57" x2="299.4" y2="630.53" stroke="#000" stroke-width="1.1"/>
<line x1="295.65" y1="630.53" x2="303.15" y2="630.53" stroke="#000" stroke-width="1.1"/>
<line x1="219.7" y1="685.3" x2="310.9" y2="685.3" stroke="#111" stroke-width="1.2"/>
<path d="M254.3 555.4V534.3H299.7V625" fill="none" stroke="#111" stroke-width="1.1"/>
<path d="M254.3 542.3H277.4V609" fill="none" stroke="#111" stroke-width="1.1"/>
<polygon points="274.5,529.13 275.05,530.45 276.47,530.56 275.39,531.49 275.72,532.87 274.5,532.13 273.28,532.87 273.61,531.49 272.53,530.56 273.95,530.45" fill="#111"/>
<polygon points="279,529.13 279.55,530.45 280.97,530.56 279.89,531.49 280.22,532.87 279,532.13 277.78,532.87 278.11,531.49 277.03,530.56 278.45,530.45" fill="#111"/>
<polygon points="263.4,537.73 263.95,539.05 265.37,539.16 264.29,540.09 264.62,541.47 263.4,540.73 262.18,541.47 262.51,540.09 261.43,539.16 262.85,539.05" fill="#111"/>
<polygon points="267.6,537.73 268.15,539.05 269.57,539.16 268.49,540.09 268.82,541.47 267.6,540.73 266.38,541.47 266.71,540.09 265.63,539.16 267.05,539.05" fill="#111"/>
<text x="333" y="547" font-size="31" fill="#111">d</text>
<text x="420.03" y="555.2" font-size="13" fill="#111">Lipids: [U-</text>
<text x="479.1" y="548.4" font-size="9.2" fill="#111">14</text>
<text x="487.63" y="555.2" font-size="13.1" fill="#111">C] Glucose</text>
<line x1="408.9" y1="565.6" x2="408.9" y2="742.6" stroke="#111" stroke-width="1.2"/>
<line x1="405.7" y1="742" x2="408.9" y2="742" stroke="#111" stroke-width="1.2"/>
<text x="403.61" y="746.6" font-size="13" text-anchor="end" fill="#111">0.00</text>
<line x1="405.7" y1="712.7" x2="408.9" y2="712.7" stroke="#111" stroke-width="1.2"/>
<text x="403.75" y="717.3" font-size="13" text-anchor="end" fill="#111">0.02</text>
<line x1="405.7" y1="683.4" x2="408.9" y2="683.4" stroke="#111" stroke-width="1.2"/>
<text x="403.48" y="688" font-size="13" text-anchor="end" fill="#111">0.04</text>
<line x1="405.7" y1="654.1" x2="408.9" y2="654.1" stroke="#111" stroke-width="1.2"/>
<text x="403.67" y="658.7" font-size="13" text-anchor="end" fill="#111">0.06</text>
<line x1="405.7" y1="624.8" x2="408.9" y2="624.8" stroke="#111" stroke-width="1.2"/>
<text x="403.66" y="629.4" font-size="13" text-anchor="end" fill="#111">0.08</text>
<line x1="405.7" y1="595.5" x2="408.9" y2="595.5" stroke="#111" stroke-width="1.2"/>
<text x="403.61" y="600.1" font-size="13" text-anchor="end" fill="#111">0.10</text>
<line x1="405.7" y1="566.2" x2="408.9" y2="566.2" stroke="#111" stroke-width="1.2"/>
<text x="403.75" y="570.8" font-size="13" text-anchor="end" fill="#111">0.12</text>
<rect x="411.35" y="622.76" width="3.3" height="119.24" fill="#000" stroke="#111" stroke-width="0.9"/>
<rect x="416.92" y="641.07" width="3.3" height="100.93" fill="#383838" stroke="#111" stroke-width="0.9"/>
<rect x="422.49" y="697.62" width="3.3" height="44.38" fill="url(#hg)" stroke="#111" stroke-width="0.9"/>
<rect x="428.06" y="705.09" width="3.3" height="36.91" fill="url(#hw)" stroke="#111" stroke-width="0.9"/>
<line x1="413" y1="643.11" x2="413" y2="601.51" stroke="#000" stroke-width="1.1"/>
<line x1="412" y1="601.51" x2="414" y2="601.51" stroke="#000" stroke-width="1.1"/>
<line x1="418.57" y1="646.34" x2="418.57" y2="634.91" stroke="#000" stroke-width="1.1"/>
<line x1="417.57" y1="634.91" x2="419.57" y2="634.91" stroke="#000" stroke-width="1.1"/>
<line x1="424.14" y1="703.03" x2="424.14" y2="691.31" stroke="#000" stroke-width="1.1"/>
<line x1="423.14" y1="691.31" x2="425.14" y2="691.31" stroke="#000" stroke-width="1.1"/>
<line x1="429.71" y1="708.16" x2="429.71" y2="701.13" stroke="#000" stroke-width="1.1"/>
<line x1="428.71" y1="701.13" x2="430.71" y2="701.13" stroke="#000" stroke-width="1.1"/>
<line x1="421.2" y1="742" x2="421.2" y2="745.2" stroke="#111" stroke-width="1.2"/>
<text transform="translate(425.8 750.6) rotate(-90)" font-size="13.7" text-anchor="end" fill="#111">Total</text>
<rect x="437.5" y="650.01" width="3.3" height="91.99" fill="#000" stroke="#111" stroke-width="0.9"/>
<rect x="443.07" y="665.83" width="3.3" height="76.17" fill="#383838" stroke="#111" stroke-width="0.9"/>
<rect x="448.64" y="706.41" width="3.3" height="35.59" fill="url(#hg)" stroke="#111" stroke-width="0.9"/>
<rect x="454.21" y="711.69" width="3.3" height="30.31" fill="url(#hw)" stroke="#111" stroke-width="0.9"/>
<line x1="439.15" y1="665.09" x2="439.15" y2="634.03" stroke="#000" stroke-width="1.1"/>
<line x1="438.15" y1="634.03" x2="440.15" y2="634.03" stroke="#000" stroke-width="1.1"/>
<line x1="444.72" y1="670.22" x2="444.72" y2="660.55" stroke="#000" stroke-width="1.1"/>
<line x1="443.72" y1="660.55" x2="445.72" y2="660.55" stroke="#000" stroke-width="1.1"/>
<line x1="450.29" y1="710.5" x2="450.29" y2="701.42" stroke="#000" stroke-width="1.1"/>
<line x1="449.29" y1="701.42" x2="451.29" y2="701.42" stroke="#000" stroke-width="1.1"/>
<line x1="455.86" y1="714.02" x2="455.86" y2="708.45" stroke="#000" stroke-width="1.1"/>
<line x1="454.86" y1="708.45" x2="456.86" y2="708.45" stroke="#000" stroke-width="1.1"/>
<line x1="447.35" y1="742" x2="447.35" y2="745.2" stroke="#111" stroke-width="1.2"/>
<text transform="translate(451.95 750.6) rotate(-90)" font-size="13.7" text-anchor="end" fill="#111">PL</text>
<rect x="463.65" y="728.53" width="3.3" height="13.47" fill="#000" stroke="#111" stroke-width="0.9"/>
<rect x="469.22" y="735.42" width="3.3" height="6.58" fill="#383838" stroke="#111" stroke-width="0.9"/>
<rect x="474.79" y="739.81" width="3.3" height="2.19" fill="url(#hg)" stroke="#111" stroke-width="0.9"/>
<rect x="480.36" y="740.25" width="3.3" height="1.75" fill="url(#hw)" stroke="#111" stroke-width="0.9"/>
<line x1="465.3" y1="733.21" x2="465.3" y2="722.95" stroke="#000" stroke-width="1.1"/>
<line x1="464.3" y1="722.95" x2="466.3" y2="722.95" stroke="#000" stroke-width="1.1"/>
<line x1="470.87" y1="736.14" x2="470.87" y2="733.8" stroke="#000" stroke-width="1.1"/>
<line x1="469.87" y1="733.8" x2="471.87" y2="733.8" stroke="#000" stroke-width="1.1"/>
<line x1="476.44" y1="739.8" x2="476.44" y2="738.92" stroke="#000" stroke-width="1.1"/>
<line x1="475.44" y1="738.92" x2="477.44" y2="738.92" stroke="#000" stroke-width="1.1"/>
<line x1="473.5" y1="742" x2="473.5" y2="745.2" stroke="#111" stroke-width="1.2"/>
<text transform="translate(478.1 750.6) rotate(-90)" font-size="13.7" text-anchor="end" fill="#111">FFA</text>
<rect x="489.8" y="742.01" width="3.3" height="0.3" fill="#000" stroke="#111" stroke-width="0.9"/>
<rect x="495.37" y="742.01" width="3.3" height="0.3" fill="#383838" stroke="#111" stroke-width="0.9"/>
<rect x="500.94" y="742.01" width="3.3" height="0.3" fill="url(#hg)" stroke="#111" stroke-width="0.9"/>
<rect x="506.51" y="742.01" width="3.3" height="0.3" fill="url(#hw)" stroke="#111" stroke-width="0.9"/>
<line x1="499.65" y1="742" x2="499.65" y2="745.2" stroke="#111" stroke-width="1.2"/>
<text transform="translate(504.25 750.6) rotate(-90)" font-size="13.7" text-anchor="end" fill="#111">DAG</text>
<rect x="515.95" y="733.22" width="3.3" height="8.78" fill="#000" stroke="#111" stroke-width="0.9"/>
<rect x="521.52" y="731.9" width="3.3" height="10.1" fill="#383838" stroke="#111" stroke-width="0.9"/>
<rect x="527.09" y="739.81" width="3.3" height="2.19" fill="url(#hg)" stroke="#111" stroke-width="0.9"/>
<rect x="532.66" y="740.69" width="3.3" height="1.31" fill="url(#hw)" stroke="#111" stroke-width="0.9"/>
<line x1="517.6" y1="733.94" x2="517.6" y2="731.6" stroke="#000" stroke-width="1.1"/>
<line x1="516.6" y1="731.6" x2="518.6" y2="731.6" stroke="#000" stroke-width="1.1"/>
<line x1="523.17" y1="732.48" x2="523.17" y2="730.43" stroke="#000" stroke-width="1.1"/>
<line x1="522.17" y1="730.43" x2="524.17" y2="730.43" stroke="#000" stroke-width="1.1"/>
<line x1="528.74" y1="739.8" x2="528.74" y2="738.92" stroke="#000" stroke-width="1.1"/>
<line x1="527.74" y1="738.92" x2="529.74" y2="738.92" stroke="#000" stroke-width="1.1"/>
<line x1="525.8" y1="742" x2="525.8" y2="745.2" stroke="#111" stroke-width="1.2"/>
<text transform="translate(530.4 750.6) rotate(-90)" font-size="13.7" text-anchor="end" fill="#111">TAG</text>
<rect x="542.1" y="738.06" width="3.3" height="3.94" fill="#000" stroke="#111" stroke-width="0.9"/>
<rect x="547.67" y="734.83" width="3.3" height="7.17" fill="#383838" stroke="#111" stroke-width="0.9"/>
<rect x="553.24" y="739.81" width="3.3" height="2.19" fill="url(#hg)" stroke="#111" stroke-width="0.9"/>
<rect x="558.81" y="741.28" width="3.3" height="0.72" fill="url(#hw)" stroke="#111" stroke-width="0.9"/>
<line x1="543.75" y1="738.34" x2="543.75" y2="736.87" stroke="#000" stroke-width="1.1"/>
<line x1="542.75" y1="736.87" x2="544.75" y2="736.87" stroke="#000" stroke-width="1.1"/>
<line x1="549.32" y1="735.41" x2="549.32" y2="733.36" stroke="#000" stroke-width="1.1"/>
<line x1="548.32" y1="733.36" x2="550.32" y2="733.36" stroke="#000" stroke-width="1.1"/>
<line x1="554.89" y1="739.8" x2="554.89" y2="738.92" stroke="#000" stroke-width="1.1"/>
<line x1="553.89" y1="738.92" x2="555.89" y2="738.92" stroke="#000" stroke-width="1.1"/>
<line x1="551.95" y1="742" x2="551.95" y2="745.2" stroke="#111" stroke-width="1.2"/>
<text transform="translate(556.55 750.6) rotate(-90)" font-size="13.7" text-anchor="end" fill="#111">CE</text>
<line x1="408.3" y1="742" x2="566" y2="742" stroke="#111" stroke-width="1.2"/>
<path d="M418.8 628.6V586.7H430.9V695.4" fill="none" stroke="#000" stroke-width="1.25"/>
<path d="M418.8 604.1H425.1V683.9" fill="none" stroke="#000" stroke-width="1.25"/>
<polygon points="422,579.26 422.7,580.94 424.52,581.08 423.13,582.27 423.55,584.04 422,583.09 420.45,584.04 420.87,582.27 419.48,581.08 421.3,580.94" fill="#111"/>
<polygon points="427.7,579.26 428.4,580.94 430.22,581.08 428.83,582.27 429.25,584.04 427.7,583.09 426.15,584.04 426.57,582.27 425.18,581.08 427,580.94" fill="#111"/>
<polygon points="422,595.06 422.7,596.74 424.52,596.88 423.13,598.07 423.55,599.84 422,598.89 420.45,599.84 420.87,598.07 419.48,596.88 421.3,596.74" fill="#111"/>
<polygon points="427.7,595.06 428.4,596.74 430.22,596.88 428.83,598.07 429.25,599.84 427.7,598.89 426.15,599.84 426.57,598.07 425.18,596.88 427,596.74" fill="#111"/>
<path d="M445.3 655.8V619.8H456.9V702.2" fill="none" stroke="#000" stroke-width="1.25"/>
<path d="M445.3 633.2H450.9V694.8" fill="none" stroke="#000" stroke-width="1.25"/>
<polygon points="448.25,612.55 448.95,614.24 450.77,614.38 449.38,615.57 449.8,617.34 448.25,616.39 446.7,617.34 447.12,615.57 445.73,614.38 447.55,614.24" fill="#111"/>
<polygon points="453.95,612.55 454.65,614.24 456.47,614.38 455.08,615.57 455.5,617.34 453.95,616.39 452.4,617.34 452.82,615.57 451.43,614.38 453.25,614.24" fill="#111"/>
<polygon points="448.25,625.46 448.95,627.14 450.77,627.28 449.38,628.47 449.8,630.24 448.25,629.29 446.7,630.24 447.12,628.47 445.73,627.28 447.55,627.14" fill="#111"/>
<polygon points="453.95,625.46 454.65,627.14 456.47,627.28 455.08,628.47 455.5,630.24 453.95,629.29 452.4,630.24 452.82,628.47 451.43,627.28 453.25,627.14" fill="#111"/>
<path d="M471.1 731.9V701.5H483.3V736" fill="none" stroke="#000" stroke-width="1.25"/>
<path d="M471.1 710.5H477.2V735.5" fill="none" stroke="#000" stroke-width="1.25"/>
<polygon points="474.35,694.06 475.05,695.74 476.87,695.88 475.48,697.07 475.9,698.84 474.35,697.89 472.8,698.84 473.22,697.07 471.83,695.88 473.65,695.74" fill="#111"/>
<polygon points="480.05,694.06 480.75,695.74 482.57,695.88 481.18,697.07 481.6,698.84 480.05,697.89 478.5,698.84 478.92,697.07 477.53,695.88 479.35,695.74" fill="#111"/>
<polygon points="474.35,704.25 475.05,705.94 476.87,706.08 475.48,707.27 475.9,709.04 474.35,708.09 472.8,709.04 473.22,707.27 471.83,706.08 473.65,705.94" fill="#111"/>
<polygon points="480.05,704.25 480.75,705.94 482.57,706.08 481.18,707.27 481.6,709.04 480.05,708.09 478.5,709.04 478.92,707.27 477.53,706.08 479.35,705.94" fill="#111"/>
<path d="M496.5 738.7V721.5H508.5V739" fill="none" stroke="#000" stroke-width="1.25"/>
<path d="M496.5 729.2H502.9V739" fill="none" stroke="#000" stroke-width="1.25"/>
<polygon points="502.5,714.56 503.2,716.24 505.02,716.38 503.63,717.57 504.05,719.34 502.5,718.39 500.95,719.34 501.37,717.57 499.98,716.38 501.8,716.24" fill="#111"/>
<polygon points="502.5,723.56 503.2,725.24 505.02,725.38 503.63,726.57 504.05,728.34 502.5,727.39 500.95,728.34 501.37,726.57 499.98,725.38 501.8,725.24" fill="#111"/>
<path d="M522.7 726.6V711.2H535V736.5" fill="none" stroke="#000" stroke-width="1.25"/>
<path d="M522.7 720.2H529V735.5" fill="none" stroke="#000" stroke-width="1.25"/>
<polygon points="526,703.86 526.7,705.54 528.52,705.68 527.13,706.87 527.55,708.64 526,707.69 524.45,708.64 524.87,706.87 523.48,705.68 525.3,705.54" fill="#111"/>
<polygon points="531.7,703.86 532.4,705.54 534.22,705.68 532.83,706.87 533.25,708.64 531.7,707.69 530.15,708.64 530.57,706.87 529.18,705.68 531,705.54" fill="#111"/>
<polygon points="526,713.36 526.7,715.04 528.52,715.18 527.13,716.37 527.55,718.14 526,717.19 524.45,718.14 524.87,716.37 523.48,715.18 525.3,715.04" fill="#111"/>
<polygon points="531.7,713.36 532.4,715.04 534.22,715.18 532.83,716.37 533.25,718.14 531.7,717.19 530.15,718.14 530.57,716.37 529.18,715.18 531,715.04" fill="#111"/>
<path d="M548.5 731.9V715.8H560.4V737" fill="none" stroke="#000" stroke-width="1.25"/>
<path d="M548.5 723.9H554.6V735.5" fill="none" stroke="#000" stroke-width="1.25"/>
<polygon points="551.6,708.25 552.3,709.94 554.12,710.08 552.73,711.27 553.15,713.04 551.6,712.09 550.05,713.04 550.47,711.27 549.08,710.08 550.9,709.94" fill="#111"/>
<polygon points="557.3,708.25 558,709.94 559.82,710.08 558.43,711.27 558.85,713.04 557.3,712.09 555.75,713.04 556.17,711.27 554.78,710.08 556.6,709.94" fill="#111"/>
<polygon points="551.6,717.46 552.3,719.14 554.12,719.28 552.73,720.47 553.15,722.24 551.6,721.29 550.05,722.24 550.47,720.47 549.08,719.28 550.9,719.14" fill="#111"/>
<polygon points="557.3,717.46 558,719.14 559.82,719.28 558.43,720.47 558.85,722.24 557.3,721.29 555.75,722.24 556.17,720.47 554.78,719.28 556.6,719.14" fill="#111"/>
<text transform="translate(375.5 651.75) rotate(-90)" font-size="13" text-anchor="middle" fill="#111">µmoles/mg prot.</text>
</svg>
</body></html>
